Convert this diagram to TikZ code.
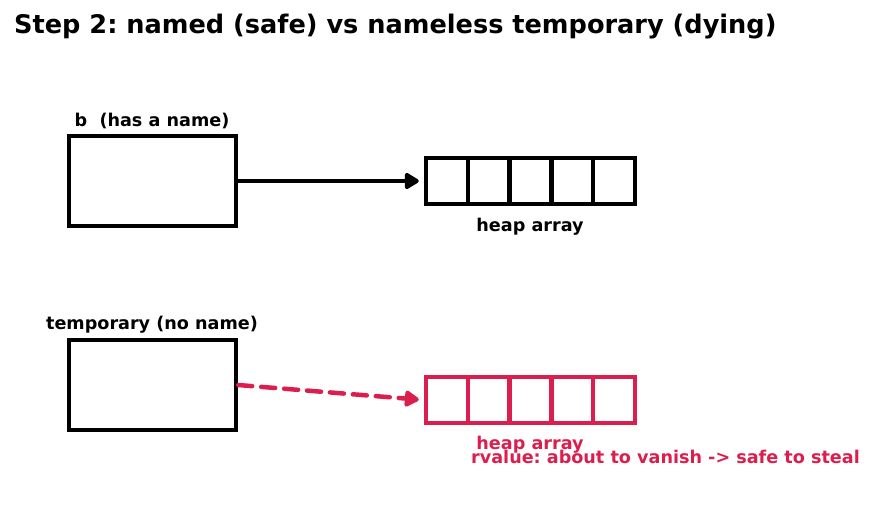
\documentclass[tikz,border=0pt]{standalone}
\usepackage{fontspec}
\setmainfont{DejaVu Sans}
\usetikzlibrary{arrows.meta}
\definecolor{hot}{RGB}{220,30,78}
\begin{document}
\frenchspacing
\begin{tikzpicture}[x=1pt,y=-1pt,
  obj/.style={draw=black,line width=4.5pt,minimum width=167pt,minimum height=90pt,inner sep=0pt},
  cell/.style={draw,line width=4.5pt,minimum width=41.8pt,minimum height=46pt,inner sep=0pt},
  lbl/.style={font=\bfseries\fontsize{17.6}{17.6}\selectfont,inner sep=0pt},
  conn/.style={line width=4.5pt,shorten >=5pt,-{Triangle[length=16pt,width=18pt,round]}}]
\useasboundingbox (0,0) rectangle (872,512);
\node[anchor=west,inner sep=0pt,font=\bfseries\fontsize{25.6}{25.6}\selectfont] (title) at (14,27) {Step 2: named (safe) vs nameless temporary (dying)};
% top
\node[obj] (b) at (152.5,181) {};
\node[lbl] (bl) at (152,120.5) {b\ \ (has a name)};
\foreach \i in {1,...,5}{
  \node[cell] (h\i) at ({426+41.8*(\i-0.5)},181) {};
}
\node[lbl] (hl) at (530,226.5) {heap array};
\draw[conn] (b.east) -- (h1.west);
% bottom
\node[obj] (t) at (152.5,385) {};
\node[lbl] (tl) at (152,324.5) {temporary (no name)};
\foreach \i in {1,...,5}{
  \node[cell,draw=hot] (r\i) at ({426+41.8*(\i-0.5)},400) {};
}
\node[lbl,text=hot] (rl) at (530,444.5) {heap array};
\node[lbl,text=hot] (note) at (665.5,456.5) {rvalue: about to vanish -> safe to steal};
\draw[conn,hot,dash pattern=on 14pt off 9pt,line cap=round] (t.east) -- (r1.west);
\end{tikzpicture}
\end{document}
